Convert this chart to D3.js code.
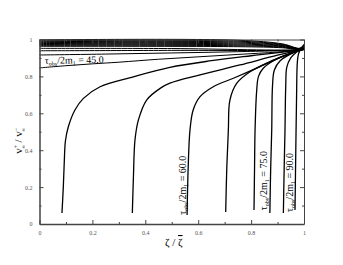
<!DOCTYPE html>
<html>
<head>
<meta charset="utf-8">
<script src="https://cdn.jsdelivr.net/npm/d3@7"></script>
<style>
  body { margin: 0; background: #fff; }
  svg { display: block; font-family: "Liberation Serif", "DejaVu Serif", serif; }
</style>
</head>
<body>
<div id="chart"></div>
<script>
// Curves that rise from near the bottom
const riseCurves = [
  [[0.085,0.06],[0.09,0.2],[0.094,0.35],[0.098,0.45],[0.109,0.527],[0.134,0.618],[0.166,0.681],[0.229,0.744],[0.355,0.798],[0.493,0.849],[0.65,0.885],[0.8,0.912],[0.92,0.932],[0.985,0.943],[1,0.946]],
  [[0.351,0.06],[0.355,0.25],[0.361,0.455],[0.374,0.564],[0.405,0.672],[0.456,0.735],[0.493,0.763],[0.607,0.808],[0.758,0.862],[0.9,0.915],[0.985,0.943],[1,0.946]],
  [[0.558,0.049],[0.562,0.3],[0.569,0.51],[0.581,0.618],[0.607,0.69],[0.657,0.744],[0.733,0.79],[0.834,0.853],[0.93,0.915],[0.985,0.943],[1,0.946]],
  [[0.704,0.065],[0.708,0.3],[0.714,0.51],[0.72,0.672],[0.746,0.763],[0.796,0.825],[0.871,0.88],[0.94,0.92],[0.985,0.943],[1,0.946]],
  [[0.811,0.076],[0.813,0.3],[0.815,0.51],[0.821,0.72],[0.828,0.8],[0.846,0.844],[0.89,0.889],[0.95,0.925],[0.985,0.943],[1,0.946]],
  [[0.871,0.06],[0.874,0.3],[0.878,0.51],[0.881,0.75],[0.888,0.835],[0.91,0.885],[0.955,0.925],[0.985,0.943],[1,0.946]],
  [[0.922,0.06],[0.925,0.3],[0.928,0.5],[0.931,0.75],[0.935,0.85],[0.95,0.9],[0.97,0.93],[0.985,0.943],[1,0.946]],
  [[0.966,0.076],[0.969,0.4],[0.972,0.7],[0.975,0.88],[0.98,0.925],[0.987,0.943],[1,0.946]]
];

// Curves that start on the left edge near the top
const flatCurves = [
  [[0,0.846],[0.1,0.858],[0.2,0.868],[0.3,0.877],[0.45,0.893],[0.6,0.906],[0.75,0.919],[0.9,0.932],[0.985,0.943],[1,0.947]],
  [[0,0.916],[0.25,0.921],[0.5,0.927],[0.75,0.934],[0.985,0.943],[1,0.946]],
  [[0,0.939],[0.5,0.941],[0.985,0.944],[1,0.948]],
  [[0,0.952],[0.5,0.951],[0.985,0.945],[1,0.95]],
  [[0,0.963],[0.75,0.961],[0.92,0.955],[0.985,0.946],[1,0.955]],
  [[0,0.968],[0.75,0.966],[0.92,0.958],[0.985,0.947],[1,0.958]],
  [[0,0.973],[0.75,0.971],[0.92,0.961],[0.985,0.948],[1,0.961]],
  [[0,0.978],[0.75,0.976],[0.92,0.964],[0.985,0.949],[1,0.964]],
  [[0,0.983],[0.75,0.981],[0.92,0.967],[0.985,0.95],[1,0.967]],
  [[0,0.988],[0.75,0.986],[0.92,0.97],[0.985,0.951],[1,0.97]],
  [[0,0.993],[0.75,0.991],[0.92,0.973],[0.985,0.952],[1,0.973]],
  [[0,0.998],[0.75,0.996],[0.92,0.976],[0.985,0.953],[1,0.976]]
];

const majorTicks = [0, 0.2, 0.4, 0.6, 0.8, 1];
const minorTicks = [0.1, 0.3, 0.5, 0.7, 0.9];

// curve labels: value, anchor point in data coords, rotation
const curveLabels = [
  { value: "45.0", x: 0.02, y: 0.868, rotate: -1 },
  { value: "60.0", x: 0.552, y: 0.05, rotate: -90 },
  { value: "75.0", x: 0.86, y: 0.075, rotate: -90 },
  { value: "90.0", x: 0.958, y: 0.065, rotate: -90 }
];

const W = 343, H = 265;
const margin = { left: 39.5, right: 39, top: 39.5, bottom: 41 };

const svg = d3.select("#chart").append("svg")
  .attr("width", W).attr("height", H);

const x = d3.scaleLinear().domain([0, 1]).range([margin.left, W - margin.right]);
const y = d3.scaleLinear().domain([0, 1]).range([H - margin.bottom, margin.top]);

const fmt = d3.format("~g");
const axisColor = "#444";

function styleAxis(g, width) {
  g.select(".domain").attr("stroke", axisColor).attr("stroke-width", width);
  g.selectAll(".tick line").attr("stroke", axisColor).attr("stroke-width", 1);
  g.selectAll(".tick text").attr("fill", "#555").attr("font-size", 6)
    .attr("font-family", "Liberation Serif, serif");
}

// curves
const line = d3.line().x(d => x(d[0])).y(d => y(d[1])).curve(d3.curveCatmullRom.alpha(0.5));

svg.append("g").selectAll("path.flat")
  .data(flatCurves)
  .join("path")
  .attr("class", "flat")
  .attr("d", line)
  .attr("fill", "none")
  .attr("stroke", "#000")
  .attr("stroke-width", 1);

svg.append("g").selectAll("path.rise")
  .data(riseCurves)
  .join("path")
  .attr("class", "rise")
  .attr("d", line)
  .attr("fill", "none")
  .attr("stroke", "#000")
  .attr("stroke-width", 1.3);

// axes: major ticks + minor ticks, mirrored on top and right
const axBottom = svg.append("g").attr("transform", `translate(0,${y(0)})`)
  .call(d3.axisBottom(x).tickValues(majorTicks).tickFormat(fmt).tickSizeInner(-4).tickSizeOuter(0).tickPadding(7));
styleAxis(axBottom, 1.5);
svg.append("g").attr("transform", `translate(0,${y(0)})`)
  .call(d3.axisBottom(x).tickValues(minorTicks).tickFormat("").tickSizeInner(-2).tickSizeOuter(0))
  .call(g => styleAxis(g, 0));

const axLeft = svg.append("g").attr("transform", `translate(${x(0)},0)`)
  .call(d3.axisLeft(y).tickValues(majorTicks).tickFormat(fmt).tickSizeInner(-4).tickSizeOuter(0).tickPadding(7));
styleAxis(axLeft, 1.5);
svg.append("g").attr("transform", `translate(${x(0)},0)`)
  .call(d3.axisLeft(y).tickValues(minorTicks).tickFormat("").tickSizeInner(-2).tickSizeOuter(0))
  .call(g => styleAxis(g, 0));

const axRight = svg.append("g").attr("transform", `translate(${x(1)},0)`)
  .call(d3.axisRight(y).tickValues(majorTicks).tickFormat("").tickSizeInner(-4).tickSizeOuter(0));
styleAxis(axRight, 1);
svg.append("g").attr("transform", `translate(${x(1)},0)`)
  .call(d3.axisRight(y).tickValues(minorTicks).tickFormat("").tickSizeInner(-2).tickSizeOuter(0))
  .call(g => styleAxis(g, 0));

const axTop = svg.append("g").attr("transform", `translate(0,${y(1)})`)
  .call(d3.axisTop(x).tickValues(majorTicks).tickFormat("").tickSizeInner(-4).tickSizeOuter(0));
styleAxis(axTop, 1);
svg.append("g").attr("transform", `translate(0,${y(1)})`)
  .call(d3.axisTop(x).tickValues(minorTicks).tickFormat("").tickSizeInner(-2).tickSizeOuter(0))
  .call(g => styleAxis(g, 0));

// curve labels
curveLabels.forEach(l => {
  const t = svg.append("text")
    .attr("transform", `translate(${x(l.x)},${y(l.y)}) rotate(${l.rotate})`)
    .attr("font-size", 10)
    .attr("fill", "#000");
  t.append("tspan").text("τ");
  t.append("tspan").attr("font-size", 6).attr("dy", 2).text("obs");
  t.append("tspan").attr("dy", -2).text("/2m");
  t.append("tspan").attr("font-size", 6).attr("dy", 2).text("1");
  t.append("tspan").attr("dy", -2).text(" = " + l.value);
});

// axis titles
const yl = svg.append("text")
  .attr("transform", `translate(22,${(y(0) + y(1)) / 2 + 22}) rotate(-90)`)
  .attr("font-size", 11)
  .attr("fill", "#000");
yl.append("tspan").text("v");
yl.append("tspan").attr("font-size", 6).attr("dy", -4).text("+");
yl.append("tspan").attr("font-size", 5).attr("dx", -4).attr("dy", 7).text("∞");
yl.append("tspan").attr("dy", -3).text(" / v");
yl.append("tspan").attr("font-size", 6).attr("dy", -4).text("−");
yl.append("tspan").attr("font-size", 5).attr("dx", -4).attr("dy", 7).text("∞");

const xl = svg.append("text")
  .attr("x", (x(0) + x(1)) / 2 + 2)
  .attr("y", 246)
  .attr("text-anchor", "middle")
  .attr("font-size", 11)
  .attr("fill", "#000");
xl.append("tspan").text("ζ / ");
xl.append("tspan").style("text-decoration", "overline").text("ζ");
</script>
</body>
</html>
